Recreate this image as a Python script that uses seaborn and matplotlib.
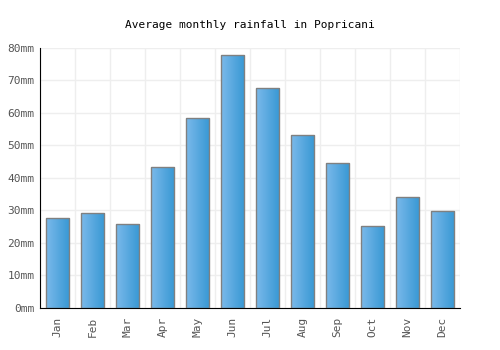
import numpy as np
import pandas as pd
import matplotlib
matplotlib.use('Agg')
import matplotlib.pyplot as plt
import seaborn as sns
from matplotlib.colors import LinearSegmentedColormap

# --- datos ---
MONTHS = ['Jan', 'Feb', 'Mar', 'Apr', 'May', 'Jun',
          'Jul', 'Aug', 'Sep', 'Oct', 'Nov', 'Dec']
RAINFALL_MM = [27.6, 29.1, 25.8, 43.4, 58.4, 77.9, 67.6, 53.1, 44.6, 25.1, 34.2, 29.8]
Y_TICKS = [0, 10, 20, 30, 40, 50, 60, 70, 80]
TITLE = 'Average monthly rainfall in Popricani'

df = pd.DataFrame({'month': MONTHS, 'rain': RAINFALL_MM})

sns.set_style('white')
plt.rcParams['font.family'] = ['DejaVu Sans Mono']

fig = plt.figure(figsize=(5, 3.5), dpi=100)
ax = fig.add_axes([0.08, 0.12, 0.84, 0.743])

sns.barplot(data=df, x='month', y='rain', color='#4aa3df', width=0.68,
            edgecolor='#808080', linewidth=1, ax=ax)

# gradiente horizontal en cada barra
cmap = LinearSegmentedColormap.from_list('g', ['#7bb9ea', '#3798d4'])
grad = np.linspace(0, 1, 64).reshape(1, -1)
for p in ax.patches:
    x0, y0 = p.get_x(), p.get_y()
    w, h = p.get_width(), p.get_height()
    im = ax.imshow(grad, cmap=cmap, aspect='auto', extent=[x0, x0 + w, y0, y0 + h],
                   zorder=p.get_zorder() - 0.1)
    im.set_clip_path(p)
    p.set_facecolor('none')
    p.set_zorder(3)

ax.set_xlim(-0.5, len(MONTHS) - 0.5)
ax.set_ylim(0, 80)
ax.set_yticks(Y_TICKS)
ax.set_yticklabels([f'{v}mm' for v in Y_TICKS])

ax.set_xticks(np.arange(len(MONTHS) + 1) - 0.5, minor=True)
ax.grid(False)
ax.grid(which='minor', axis='x', color='#eeeeee', linewidth=1)
ax.grid(which='major', axis='y', color='#eeeeee', linewidth=1)
ax.set_axisbelow(True)

ax.tick_params(axis='x', which='both', length=0, labelrotation=90, labelsize=8,
               labelcolor='#555555', pad=6)
ax.tick_params(axis='y', length=0, labelsize=8, labelcolor='#555555', pad=4)
ax.set_xlabel('')
ax.set_ylabel('')

for s in ['top', 'right']:
    ax.spines[s].set_visible(False)
ax.spines['left'].set_color('black')
ax.spines['bottom'].set_color('black')

fig.text(0.5, 0.928, TITLE, ha='center', va='center', fontsize=8, color='black')

fig.savefig('out.png', dpi=100)
